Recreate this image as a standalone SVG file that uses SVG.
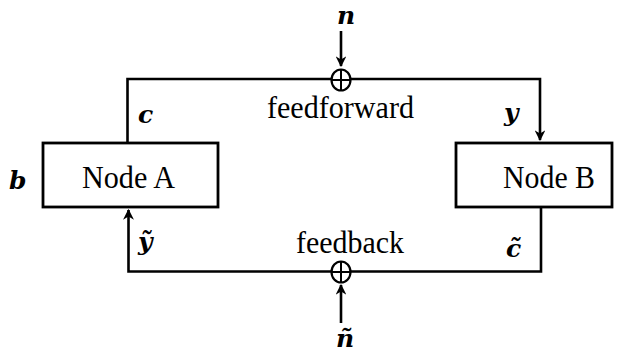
<svg xmlns="http://www.w3.org/2000/svg" width="619" height="354" viewBox="0 0 619 354">
<defs>
<marker id="arr" viewBox="0 0 10 10" refX="9" refY="5" markerWidth="4.2" markerHeight="4.2" orient="auto" markerUnits="strokeWidth">
<path d="M0,0 L10,5 L0,10 L3,5 z" fill="#000"/>
</marker>
<style>
.ln{fill:none;stroke:#000;stroke-width:2.6}
.box{fill:#fff;stroke:#000;stroke-width:2.8}
.sum{fill:#fff;stroke:#000;stroke-width:2.2}
</style>
</defs>
<rect width="619" height="354" fill="#fff"/>
<g id="connectors">
<path class="ln" d="M127.5,143 V79 H540 V140" marker-end="url(#arr)"/>
<path class="ln" d="M541,207 V271.5 H128.5 V210" marker-end="url(#arr)"/>
<path class="ln" d="M341,31 V66" marker-end="url(#arr)"/>
<path class="ln" d="M341,323 V285" marker-end="url(#arr)"/>
</g>
<g id="sum-top">
<ellipse class="sum" cx="341" cy="80" rx="9.5" ry="10.5"/>
<path class="ln" d="M331.5,80 H350.5 M341,69.5 V90.5" style="stroke-width:2"/>
</g>
<g id="sum-bottom">
<ellipse class="sum" cx="341" cy="272" rx="9.5" ry="10.5"/>
<path class="ln" d="M331.5,272 H350.5 M341,261.5 V282.5" style="stroke-width:2"/>
</g>
<g font-family="Liberation Serif, Times New Roman, serif" font-size="31" fill="#000">
<g id="nodeA">
<rect class="box" x="43" y="143" width="175" height="64"/>
<text x="82" y="188" textLength="93" lengthAdjust="spacingAndGlyphs">Node A</text>
</g>
<g id="nodeB">
<rect class="box" x="456" y="143" width="156" height="64"/>
<text x="503" y="188" textLength="92" lengthAdjust="spacingAndGlyphs">Node B</text>
</g>
<g id="labels">
<text x="267" y="118" textLength="147" lengthAdjust="spacingAndGlyphs">feedforward</text>
<text x="296" y="253" textLength="108" lengthAdjust="spacingAndGlyphs">feedback</text>
</g>
</g>
<g id="math" font-family="DejaVu Serif, serif" font-size="25" font-weight="bold" font-style="italic" fill="#000">
<text x="346" y="24" text-anchor="middle">n</text>
<text x="345" y="347" text-anchor="middle">ñ</text>
<text x="138" y="123">c</text>
<text x="504" y="121">y</text>
<text x="9" y="189">b</text>
<text x="138" y="250">ỹ</text>
<text x="506" y="257">c̃</text>
</g>
</svg>
